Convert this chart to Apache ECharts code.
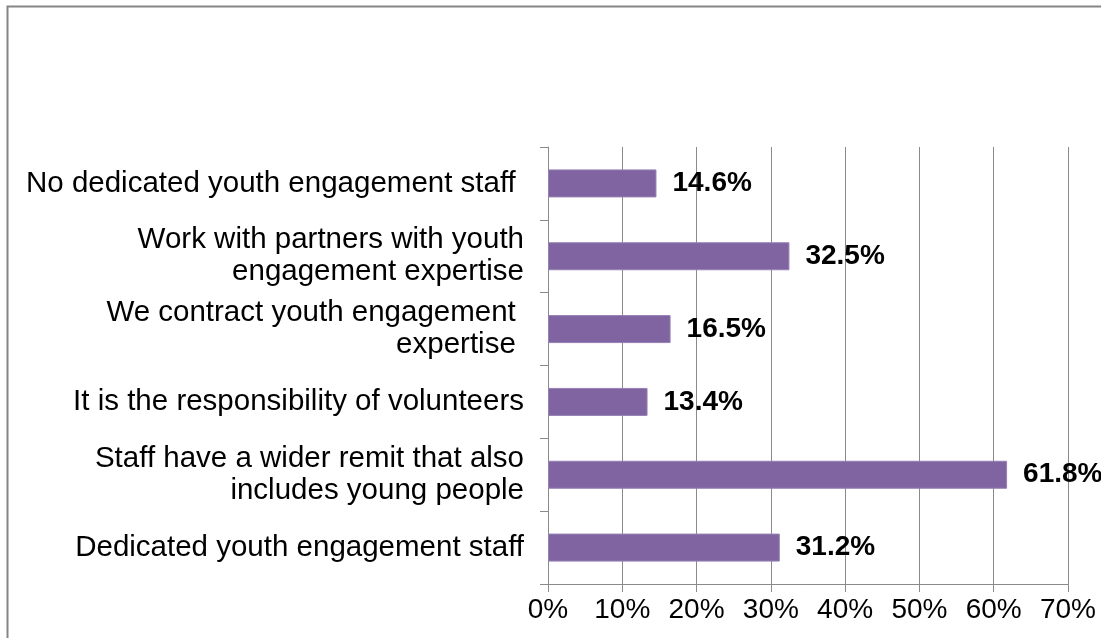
<!DOCTYPE html>
<html>
<head>
<meta charset="utf-8">
<script src="https://cdn.jsdelivr.net/npm/echarts@6/dist/echarts.min.js"></script>
<style>
  html, body { margin: 0; padding: 0; background: #fff; }
  #chart { width: 1101px; height: 638px; }
</style>
</head>
<body>
<div id="chart"></div>
<script>
// Categories listed bottom to top, as the category axis stacks them
const categories = [
  'Dedicated youth engagement staff',
  'Staff have a wider remit that also\nincludes young people',
  'It is the responsibility of volunteers',
  'We contract youth engagement \nexpertise ',
  'Work with partners with youth\nengagement expertise',
  'No dedicated youth engagement staff '
];
// Share of respondents, in percent
const shares = [31.2, 61.8, 13.4, 16.5, 32.5, 14.6];
// Value axis range and step, in percent
const axisMin = 0;
const axisMax = 70;
const axisStep = 10;

const FONT = 'Arial, "Liberation Sans", sans-serif';
const GRAY = '#8a8a8a';

const chart = echarts.init(document.getElementById('chart'), null, { renderer: 'canvas' });

chart.setOption({
  backgroundColor: '#ffffff',
  animation: false,
  grid: { left: 548, right: 33, top: 147, bottom: 54, containLabel: false },
  graphic: [
    {
      type: 'polyline',
      shape: { points: [[7.5, 638], [7.5, 6.5], [1101, 6.5]] },
      style: { stroke: '#858585', lineWidth: 2, fill: null }
    }
  ],
  xAxis: {
    type: 'value',
    min: axisMin,
    max: axisMax,
    interval: axisStep,
    axisLine: { show: true, lineStyle: { color: GRAY, width: 1 } },
    axisTick: { show: true, length: 8, lineStyle: { color: GRAY } },
    splitLine: { show: true, lineStyle: { color: GRAY, width: 1 } },
    axisLabel: {
      formatter: '{value}%',
      color: '#000',
      fontFamily: FONT,
      fontSize: 28,
      margin: 12
    }
  },
  yAxis: {
    type: 'category',
    data: categories,
    axisLine: { show: true, lineStyle: { color: GRAY, width: 1 } },
    axisTick: { show: true, length: 8, alignWithLabel: false, lineStyle: { color: GRAY } },
    splitLine: { show: false },
    axisLabel: {
      color: '#000',
      fontFamily: FONT,
      fontSize: 29.5,
      lineHeight: 32,
      margin: 24,
      align: 'right',
      padding: [4, 0, 0, 0]
    }
  },
  series: [
    {
      type: 'bar',
      data: shares,
      barWidth: 28,
      itemStyle: { color: '#8064A2', borderColor: '#9580b3', borderWidth: 1 },
      label: {
        show: true,
        position: 'right',
        distance: 16,
        color: '#000',
        fontFamily: FONT,
        fontSize: 28,
        fontWeight: 'bold',
        formatter: p => p.value.toFixed(1) + '%'
      }
    }
  ]
});
</script>
</body>
</html>
